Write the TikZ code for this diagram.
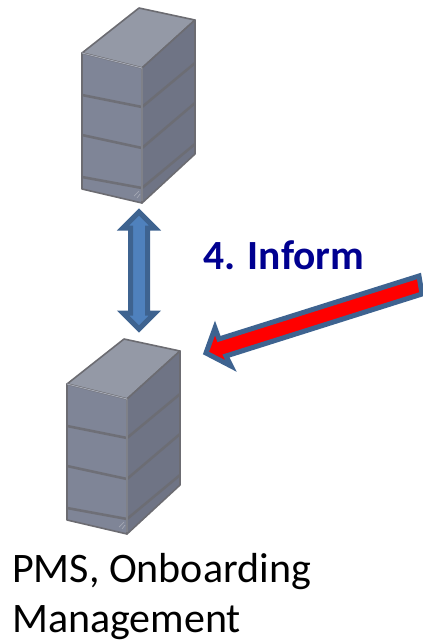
\documentclass[tikz,border=0pt]{standalone}
\usepackage{fontspec}
\setmainfont{Carlito}
\definecolor{srvtop}{HTML}{9499A6}
\definecolor{srvfront}{HTML}{7F8597}
\definecolor{srvside}{HTML}{6F7485}
\definecolor{srvline}{HTML}{6C6C72}
\definecolor{srvlight}{HTML}{A4A8B4}
\definecolor{arrowedge}{HTML}{3E6390}
\definecolor{arrowfill}{HTML}{4F81BD}
\definecolor{labelblue}{HTML}{000090}
\tikzset{
  srvedge/.style={draw=srvline,line width=1.6pt,line join=round},
  srvband/.style={draw=srvline,line width=2.6pt,opacity=.85},
  srvhi/.style={draw=srvlight,line width=.9pt},
  blockarrow/.style={draw=arrowedge,line width=5pt,line join=miter,miter limit=4},
  lbl/.style={inner sep=0pt,anchor=base west,font=\fontsize{42}{42}\selectfont},
  pics/server/.style={code={
    \fill[srvtop,srvedge] (57,8) -- (113,20) -- (60,68) -- (0,53) -- cycle;
    \fill[srvfront,srvedge] (0,53) -- (60,68) -- (60,203) -- (0,189) -- cycle;
    \fill[srvside,srvedge] (60,68) -- (113,20) -- (113,154) -- (60,203) -- cycle;
    \draw[srvband] (0,95) -- (60,107) -- (113,63);
    \draw[srvband] (0,135) -- (60,148) -- (113,103);
    \draw[srvband] (0,177) -- (60,188) -- (113,144);
    \draw[srvhi] (0,53) -- (60,68) -- (60,201);
    \draw[srvlight,line width=.7pt] (52,196) -- (57,191) (55,198) -- (58,194);
  }}
}
\begin{document}
\begin{tikzpicture}[x=1pt,y=-1pt]
\useasboundingbox (0,0) rectangle (423,641);
\pic at (82,0) {server};
\pic at (67,331) {server};
% double arrow
\filldraw[blockarrow,fill=arrowfill]
  (139,212) -- (155,228) -- (147.5,228) -- (147.5,313) -- (155,313) -- (139,329)
  -- (123,313) -- (130.5,313) -- (130.5,228) -- (123,228) -- cycle;
% red arrow
\filldraw[blockarrow,fill=red]
  (419,276) -- (219,339) -- (215,328) -- (206,353) -- (231,366) -- (226,356) -- (422,294) -- cycle;
\node[lbl,text=labelblue,font=\fontsize{41.5}{41.5}\selectfont\bfseries] (inform) at (203,269) {4. Inform};
\node[lbl] (pms) at (12,582) {PMS, Onboarding};
\node[lbl] (mgmt) at (12,632) {Management};
\end{tikzpicture}
\end{document}
